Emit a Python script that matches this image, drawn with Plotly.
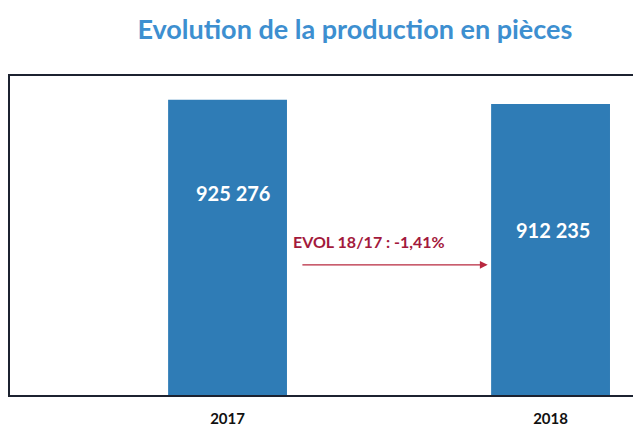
import plotly.graph_objects as go

years = ["2017", "2018"]
production = [925276, 912235]
value_labels = ["925 276", "912 235"]

evol = (production[1] - production[0]) / production[0] * 100
evol_label = "EVOL 18/17 : " + f"{evol:.2f}".replace(".", ",") + "%"

bar_color = "#2f7cb6"

fig = go.Figure()
fig.add_trace(go.Bar(
    x=years, y=production,
    marker=dict(color=bar_color, line=dict(width=0)),
    width=0.368,
    hoverinfo="skip",
))

label_shifts = [-93, -126]
label_xshifts = [5, 2]
for i, (v, lab, s, xs) in enumerate(zip(production, value_labels, label_shifts, label_xshifts)):
    fig.add_annotation(x=i, y=v, xref="x", yref="y", text=f"<b>{lab}</b>",
                       showarrow=False, yshift=s, xshift=xs,
                       font=dict(family="Lato", size=20, color="white"))

fig.add_annotation(x=0.569, y=0.480, xref="x domain", yref="y domain",
                   text=f"<b>{evol_label}</b>", showarrow=False,
                   font=dict(family="Lato", size=16, color="#a3193c"))
fig.add_annotation(x=0.757, y=0.408, xref="x domain", yref="y domain",
                   ax=0.461, ay=0.408, axref="x domain", ayref="y domain",
                   text="", showarrow=True, arrowhead=2, arrowsize=1.2,
                   arrowwidth=1.3, arrowcolor="#b8283f")

fig.update_layout(
    width=633, height=421,
    margin=dict(l=2, r=0, t=68, b=34),
    paper_bgcolor="white", plot_bgcolor="white",
    showlegend=False,
    title=dict(text="<b>Evolution de la production en pièces</b>",
               x=0.548, xanchor="center", y=0.948, yanchor="middle",
               font=dict(family="Lato", size=27, color="#3d8fd0")),
    xaxis=dict(type="category", range=[-0.6735, 1.280],
               showline=True, mirror=True, linecolor="#1c2230", linewidth=2,
               showgrid=False, ticks="", ticklabelstandoff=9,
               tickfont=dict(family="Lato", size=15, color="#111111")),
    yaxis=dict(range=[0, 1000000], showline=True, linecolor="#1c2230",
               linewidth=2, showgrid=False, showticklabels=False,
               zeroline=False, ticks=""),
)
fig.update_xaxes(tickvals=years, ticktext=[f"<b>{y}</b>" for y in years])

fig.write_html("out.html")
